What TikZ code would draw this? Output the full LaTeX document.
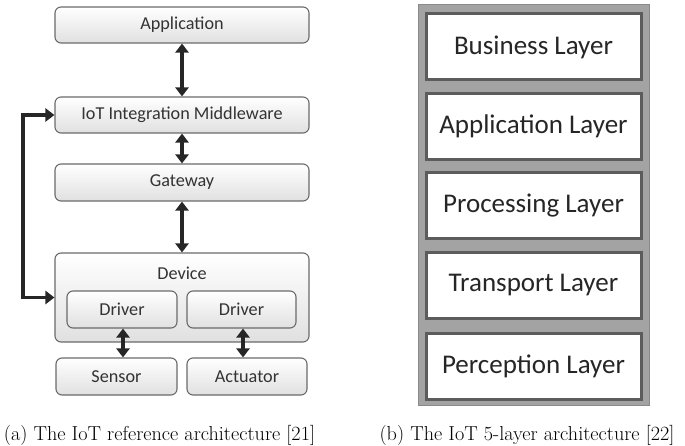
\documentclass[tikz,border=0pt]{standalone}
\usepackage{fontspec}
\newfontfamily\boxfont{Carlito}
\usetikzlibrary{arrows.meta,calc}
\definecolor{bordergray}{HTML}{6A6A6A}
\definecolor{txtgray}{HTML}{333333}
\definecolor{outerfill}{HTML}{A3A3A3}
\definecolor{outerline}{HTML}{8A8A8A}
\definecolor{innerline}{HTML}{5C5C5C}
\tikzset{
  x=1pt,y=-1pt,
  reftext/.style={font=\boxfont\fontsize{18.2}{21}\selectfont, text=txtgray},
  refbox/.style={reftext, draw=bordergray, line width=1.1pt, rounded corners=6pt,
    top color=white, bottom color=black!12, inner sep=0pt},
  layerbox/.style={draw=innerline, line width=3pt, fill=white, inner sep=0pt,
    minimum width=215pt, minimum height=66pt,
    font=\boxfont\fontsize{27}{32}\selectfont, text=black!85},
  thickarr/.style={line width=3.6pt, black!85,
    {Triangle[length=9pt,width=13pt]}-{Triangle[length=9pt,width=13pt]}},
  onearr/.style={line width=3.6pt, black!85, -{Triangle[length=9pt,width=13pt]}},
  capt/.style={font=\fontsize{20.2}{24}\selectfont, inner sep=0pt}
}
\begin{document}
\begin{tikzpicture}
\useasboundingbox (0,0) rectangle (685,446);
% left diagram
\node[refbox, minimum width=254pt, minimum height=36pt] (app) at (182,25) {Application};
\node[refbox, minimum width=254pt, minimum height=36pt] (mw) at (182,115) {IoT Integration Middleware};
\node[refbox, minimum width=254pt, minimum height=37pt] (gw) at (182,182.5) {Gateway};
\node[refbox, minimum width=254pt, minimum height=89pt] (dev) at (182,297.5) {};
\node[reftext, inner sep=0pt] (devlbl) at (182,273) {Device};
\node[refbox, minimum width=110pt, minimum height=37pt] (drvL) at (122,309.5) {Driver};
\node[refbox, minimum width=109pt, minimum height=37pt] (drvR) at (241.5,309.5) {Driver};
\node[refbox, minimum width=121pt, minimum height=37pt] (sensor) at (116.5,376.5) {Sensor};
\node[refbox, minimum width=120pt, minimum height=37pt] (act) at (247,376.5) {Actuator};
\draw[thickarr] (app.south) -- (mw.north);
\draw[thickarr] (mw.south) -- (gw.north);
\draw[thickarr] (gw.south) -- (dev.north);
\draw[thickarr] (drvL.south -| 123,0) -- (sensor.north -| 123,0);
\draw[thickarr] (drvR.south -| 243,0) -- (act.north -| 243,0);
\coordinate (loopT) at (23,115);
\coordinate (loopB) at (23,297.5);
\draw[line width=3.6pt, black!85] ($(loopT)+(0,-1.8)$) -- ($(loopB)+(0,1.8)$);
\draw[onearr] ($(loopB)+(-1.8,0)$) -- (dev.west);
\draw[onearr] ($(loopT)+(-1.8,0)$) -- (mw.west);
\node[capt, anchor=base] (capa) at (159.5,440) {(a) The IoT reference architecture [21]};
% right diagram
\node[draw=outerline, line width=1pt, fill=outerfill, minimum width=231pt, minimum height=400pt, inner sep=0pt] (outer) at (533.5,205) {};
\node[layerbox] (bus) at (533.5,47) {Business Layer};
\node[layerbox] (appl) at (533.5,126.5) {Application Layer};
\node[layerbox] (proc) at (533.5,206) {Processing Layer};
\node[layerbox] (trans) at (533.5,285.5) {Transport Layer};
\node[layerbox] (perc) at (533.5,366) {Perception Layer};
\node[capt, anchor=base] (capb) at (527,440) {(b) The IoT 5-layer architecture [22]};
\end{tikzpicture}
\end{document}
